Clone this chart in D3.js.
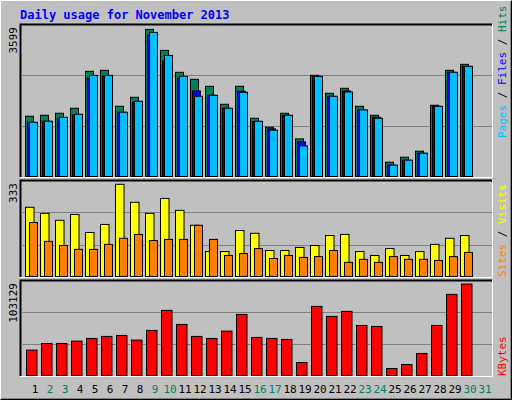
<!DOCTYPE html>
<html><head><meta charset="utf-8">
<script src="https://cdn.jsdelivr.net/npm/d3@7"></script>
<style>body{margin:0;background:#fff}</style>
</head><body><div id="chart"></div>
<script>
// Webalizer-style daily usage, November 2013
const days = d3.range(1, 32);
const weekend = [2, 3, 9, 10, 16, 17, 23, 24, 30, 31];
const hits   = [1474,1498,1547,1669,2573,2598,1718,1938,3599,3086,2549,2378,2207,1767,2207,1425,1205,1547,920,2475,2036,2158,1718,1498,350,472,619,1743,2598,2744,0];
const files  = [1327,1352,1409,1506,2402,2459,1572,1824,3460,2825,2402,2093,1987,1669,2085,1344,1164,1498,847,2451,1962,2093,1629,1449,277,399,570,1718,2549,2695,0];
const pages  = [1327,1352,1449,1523,2475,2475,1572,1840,3526,2964,2451,1962,1987,1669,2060,1352,1132,1498,749,2451,1962,2068,1629,1425,277,399,570,1718,2549,2695,0];
const visits = [250,228,203,224,159,188,333,268,228,282,239,185,90,90,166,156,94,94,105,112,148,152,90,76,101,76,90,116,138,148,0];
const sites  = [195,127,112,98,98,116,138,152,130,134,134,185,134,76,83,101,65,76,69,72,94,51,62,51,72,62,62,58,72,87,0];
const kbytes = [28605,36133,36133,38768,41779,44037,45166,39897,50812,73394,57586,44037,41779,50059,68878,42908,41779,40649,14679,77911,66620,72265,56457,55328,7904,12420,24841,56457,91455,103129,0];
const maxLabels = ['3599', '333', '103129'];

const W = 512, H = 400, font = 'DejaVu Sans Mono, monospace';
const svg = d3.select('#chart').append('svg').attr('width', W).attr('height', H);

svg.append('rect').attr('width', W).attr('height', H).attr('fill', '#c0c0c0');
// outer raised frame
svg.append('path').attr('d', `M0.5,${H-0.5}V0.5H${W-0.5}`).attr('stroke', '#fff').attr('fill', 'none');
svg.append('path').attr('d', `M0.5,${H-0.5}H${W-0.5}V0.5`).attr('stroke', '#000').attr('fill', 'none');
svg.append('path').attr('d', `M1.5,${H-1.5}H${W-1.5}V1.5`).attr('stroke', '#808080').attr('fill', 'none');

svg.append('text').attr('x', 20).attr('y', 19).attr('fill', '#0000ff')
  .attr('font-family', font).attr('font-weight', 'bold').attr('font-size', 12)
  .text('Daily usage for November 2013');

const x = d3.scaleBand().domain(days).range([21, 486]);

const panels = [
  {top: 24, bottom: 177, maxY: 29.4, max: 3599, series: [
    {data: hits, color: '#00805c', off: 4, w: 8},
    {data: files, color: '#0000ff', off: 6, w: 8},
    {data: pages, color: '#00c0ff', off: 8, w: 8}],
   label: [['Pages', '#00c0ff'], [' / ', '#000'], ['Files', '#0000ff'], [' / ', '#000'], ['Hits', '#00805c']], labelY: 138},
  {top: 180, bottom: 277, maxY: 184.3, max: 333, series: [
    {data: visits, color: '#ffff00', off: 4, w: 8.5},
    {data: sites, color: '#ff8000', off: 8, w: 8}],
   label: [['Sites', '#ff8000'], [' / ', '#000'], ['Visits', '#ffff00']], labelY: 277},
  {top: 280, bottom: 376, maxY: 284, max: 103129, series: [
    {data: kbytes, color: '#ff0000', off: 5, w: 10.5}],
   label: [['KBytes', '#ff0000']], labelY: 376}
];

panels.forEach((p, i) => {
  const base = p.bottom - 0.5;
  const y = d3.scaleLinear().domain([0, p.max]).range([base, p.maxY]);
  const g = svg.append('g');
  // inset frame
  g.append('path').attr('d', `M20.5,${p.bottom}V${p.top + 0.5}H492`).attr('stroke', '#000').attr('stroke-width', 2).attr('fill', 'none');
  g.append('path').attr('d', `M20,${p.bottom + 0.5}H492.5V${p.top}`).attr('stroke', '#fff').attr('fill', 'none');
  // grid lines at thirds
  [1, 2].forEach(k => {
    const gy = Math.round(p.bottom - (p.bottom - p.top) * k / 3) + 0.5;
    g.append('line').attr('x1', 21).attr('x2', 492).attr('y1', gy).attr('y2', gy).attr('stroke', '#808080');
  });
  p.series.forEach(s => {
    g.selectAll(null).data(days.filter(d => s.data[d - 1] > 0)).join('rect')
      .attr('x', d => x(d) + s.off + 0.5)
      .attr('y', d => y(s.data[d - 1]))
      .attr('width', s.w)
      .attr('height', d => base - y(s.data[d - 1]))
      .attr('fill', s.color).attr('stroke', '#000').attr('stroke-width', 1);
  });
  svg.append('text').attr('transform', `translate(17,${p.top + 3}) rotate(-90)`)
    .attr('text-anchor', 'end').attr('font-family', font).attr('font-size', 11)
    .attr('fill', '#000').text(maxLabels[i]);
  const t = svg.append('text').attr('transform', `translate(506,${p.labelY}) rotate(-90)`)
    .attr('font-family', font).attr('font-size', 11);
  p.label.forEach(([s, c]) => t.append('tspan').attr('fill', c).text(s));
});

svg.append('g').selectAll('text').data(days).join('text')
  .attr('x', d => x(d) + 14).attr('y', 393).attr('text-anchor', 'middle')
  .attr('font-family', font).attr('font-size', 11)
  .attr('fill', d => weekend.includes(d) ? '#00805c' : '#000')
  .text(d => d);
</script></body></html>
